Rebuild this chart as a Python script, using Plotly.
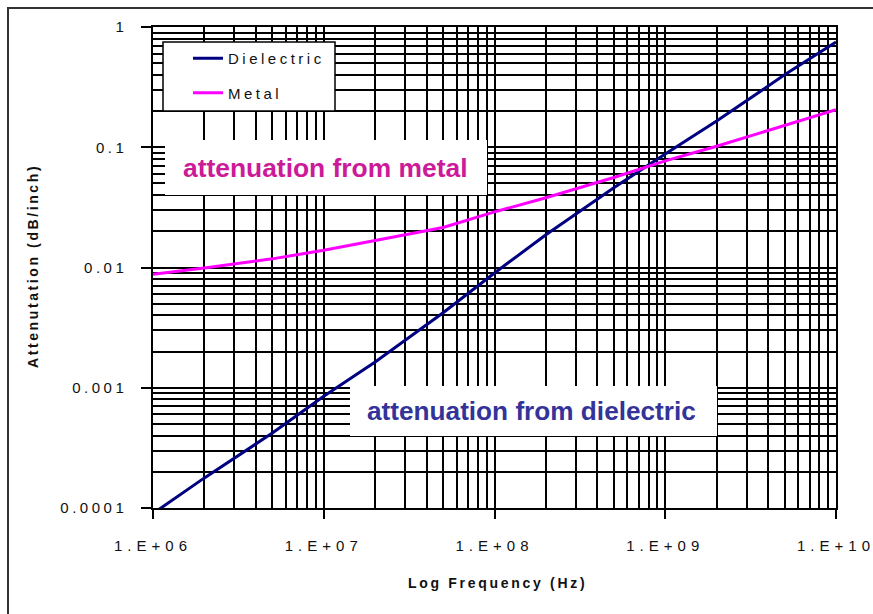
import plotly.graph_objects as go

# ---- data ----
freq_hz = [1e6, 2e6, 5e6, 1e7, 2e7, 5e7, 1e8, 2e8, 5e8, 1e9, 2e9, 5e9, 1e10]
dielectric = [9.0e-5, 1.78e-4, 4.2e-4, 8.5e-4, 1.64e-3, 4.2e-3, 9.0e-3,
              0.0187, 0.046, 0.088, 0.165, 0.40, 0.75]
metal = [0.0088, 0.0099, 0.0118, 0.0139, 0.0168, 0.0215, 0.029,
         0.038, 0.056, 0.077, 0.102, 0.152, 0.205]

x_tickvals = [1e6, 1e7, 1e8, 1e9, 1e10]
x_ticktext = ["1.E+06", "1.E+07", "1.E+08", "1.E+09", "1.E+10"]
y_tickvals = [1e-4, 1e-3, 1e-2, 1e-1, 1]
y_ticktext = ["0.0001", "0.001", "0.01", "0.1", "1"]

# ---- layout geometry (pixels) ----
W, H = 873, 614
L, R, T, B = 153, 836, 27, 508
PW, PH = R - L, B - T


def px(x):
    return (x - L) / PW


def py(y):
    return (B - y) / PH


def sp(text, s):
    return f"<span style='letter-spacing:{s}px'>{text}</span>"


FONT = "Liberation Sans, Arial, sans-serif"

fig = go.Figure()
fig.add_trace(go.Scatter(x=freq_hz, y=dielectric, mode="lines", name=sp("Dielectric", 3.5),
                         legendgroup="d", line=dict(color="#000080", width=3)))
fig.add_trace(go.Scatter(x=freq_hz, y=metal, mode="lines", name=sp("Metal", 3.5),
                         legendgroup="m", line=dict(color="#ff00ff", width=3)))

axis_common = dict(
    showgrid=True, gridcolor="black", gridwidth=1.5,
    showline=True, linecolor="black", linewidth=1.5, mirror=True,
    ticks="outside", tickcolor="black", tickwidth=1.5,
    tickfont=dict(family=FONT, size=15, color="#111"),
    minor=dict(showgrid=True, gridcolor="black", gridwidth=1.5, dtick="D1", ticks=""),
    zeroline=False, ticklabeloverflow="allow", automargin=False,
)

fig.update_xaxes(type="log", range=[6, 10], tickvals=x_tickvals,
                 ticktext=[sp(t, 5) for t in x_ticktext], ticklen=9,
                 ticklabelstandoff=14, **axis_common)
fig.update_yaxes(type="log", range=[-4, 0], tickvals=y_tickvals,
                 ticktext=[sp(t, 3.5) for t in y_ticktext], ticklen=10,
                 ticklabelstandoff=11, **axis_common)

shapes = [
    # outer chart frame
    dict(type="rect", xref="paper", yref="paper", x0=px(8), x1=px(890), y0=py(630), y1=py(8),
         line=dict(color="#333", width=2), fillcolor="rgba(0,0,0,0)", layer="above"),
    # legend box
    dict(type="rect", xref="paper", yref="paper", x0=px(163), x1=px(335), y0=py(111), y1=py(42),
         line=dict(color="black", width=1.5), fillcolor="white", layer="above"),
    # annotation boxes
    dict(type="rect", xref="paper", yref="paper", x0=px(165), x1=px(487), y0=py(195), y1=py(140),
         line=dict(width=0), fillcolor="white", layer="above"),
    dict(type="rect", xref="paper", yref="paper", x0=px(350), x1=px(717), y0=py(436), y1=py(386),
         line=dict(width=0), fillcolor="white", layer="above"),
]

annotations = [
    dict(text="<b>attenuation from metal</b>", xref="paper", yref="paper",
         x=px(325), y=py(168), showarrow=False, xanchor="center", yanchor="middle",
         font=dict(family=FONT, size=26.4, color="#cc1a99")),
    dict(text="<b>attenuation from dielectric</b>", xref="paper", yref="paper",
         x=px(531), y=py(411), showarrow=False, xanchor="center", yanchor="middle",
         font=dict(family=FONT, size=26.2, color="#333399")),
    dict(text="<b>" + sp("Log Frequency (Hz)", 2.7) + "</b>", xref="paper", yref="paper",
         x=px(497), y=py(583), showarrow=False, xanchor="center", yanchor="middle",
         font=dict(family=FONT, size=14, color="#111")),
    dict(text="<b>" + sp("Attenutation (dB/inch)", 2.6) + "</b>", xref="paper", yref="paper",
         x=px(33), y=py(266), showarrow=False, xanchor="center", yanchor="middle",
         textangle=-90, font=dict(family=FONT, size=14, color="#111")),
]

fig.update_layout(
    width=W, height=H,
    margin=dict(l=L, r=W - R, t=T, b=H - B, autoexpand=False),
    paper_bgcolor="white", plot_bgcolor="white",
    showlegend=True,
    legend=dict(x=px(188), y=py(42), xanchor="left", yanchor="top",
                bgcolor="rgba(0,0,0,0)", borderwidth=0, tracegroupgap=12,
                font=dict(family=FONT, size=15, color="#111")),
    shapes=shapes,
    annotations=annotations,
)

fig.write_html("out.html", config={"displayModeBar": False},
               post_script="document.body.style.margin='0';document.body.style.overflow='hidden';")
